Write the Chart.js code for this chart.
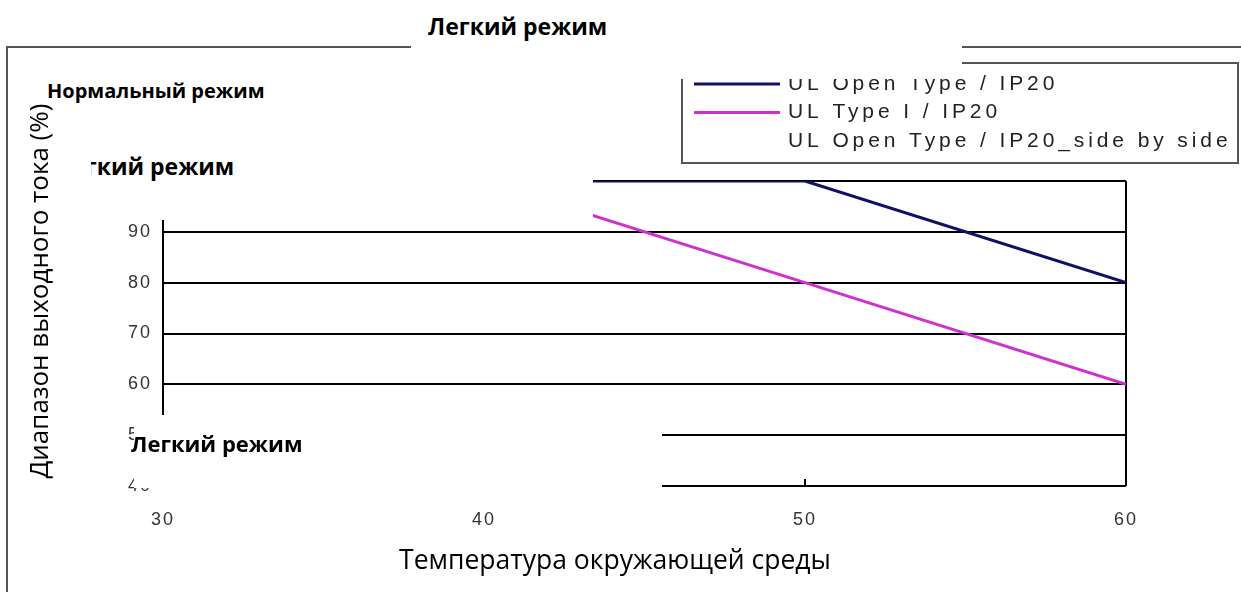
<!DOCTYPE html>
<html>
<head>
<meta charset="utf-8">
<script src="https://cdn.jsdelivr.net/npm/chart.js@4"></script>
<style>
  body { margin: 0; background: #fff; }
  #wrap { position: relative; width: 1241px; height: 592px; overflow: hidden; }
  #frame { position: absolute; left: 6px; top: 46px; width: 1300px; height: 600px;
    border-left: 2px solid #555; border-top: 2px solid #555; }
  canvas { position: absolute; left: 0; top: 0; }
  .cover { position: absolute; background: #fff; }
  .note { position: absolute; font: bold 22px "Open Sans"; line-height: 22px; color: #000; white-space: nowrap; }
  .title { position: absolute; font: 26.5px "Open Sans"; line-height: 28px; color: #000; white-space: nowrap; }
</style>
</head>
<body>
<div id="wrap">
  <div id="frame"></div>
  <canvas id="deratingChart" width="1241" height="592"></canvas>
  <div class="cover" style="left:411px;top:0;width:551px;height:79px"></div>
  <div class="cover" style="left:20px;top:56px;width:573px;height:164px"></div>
  <div class="cover" style="left:134px;top:415px;width:528px;height:73px"></div>
  <div class="note" style="left:428px;top:15px;font-size:23px">Легкий режим</div>
  <div class="note" style="left:47px;top:80px;font-size:20px">Нормальный режим</div>
  <div class="note" style="left:55px;top:155px;font-size:23px">Легкий режим</div>
  <div class="note" style="left:131px;top:432px">Легкий режим</div>
  <div class="cover" style="left:22px;top:104px;width:69px;height:384px"></div>
  <div class="title" style="left:38px;top:291px;font-size:26px;transform:translate(-50%,-50%) rotate(-90deg)">Диапазон выходного тока (%)</div>
  <div class="title" style="left:615px;top:559px;transform:translate(-50%,-50%)">Температура окружающей среды</div>
</div>
<script>
const temps = [30, 40, 50, 60];
const openType = [100, 100, 100, 80];
const typeOne = [100, 100, 80, 60];
const sideBySide = [null, null, null, null];
const seriesNames = ["UL Open Type / IP20", "UL Type I / IP20", "UL Open Type / IP20_side by side"];
const seriesColors = ["#101066", "#d030d0", "rgba(0,0,0,0)"];
const xTicks = [30, 40, 50, 60];
const yTicks = [40, 50, 60, 70, 80, 90, 100];

function toPoints(values) {
  return temps.map((t, i) => ({ x: t, y: values[i] }));
}

const spacingPlugin = {
  id: "spacing",
  beforeDraw(chart) {
    chart.ctx.letterSpacing = "2px";
  },
};

const innerTicks = {
  id: "innerTicks",
  afterDatasetsDraw(chart) {
    const ctx = chart.ctx;
    const x = chart.scales.x;
    const bottom = chart.chartArea.bottom;
    ctx.save();
    ctx.strokeStyle = "#000";
    ctx.lineWidth = 2;
    xTicks.slice(1, -1).forEach((t) => {
      const px = x.getPixelForValue(t);
      ctx.beginPath();
      ctx.moveTo(px, bottom);
      ctx.lineTo(px, bottom - 7);
      ctx.stroke();
    });
    ctx.restore();
  },
};

const boxLegend = {
  id: "boxLegend",
  afterDraw(chart) {
    const ctx = chart.ctx;
    ctx.save();
    ctx.strokeStyle = "#555";
    ctx.lineWidth = 2;
    ctx.strokeRect(682, 63, 556, 100);
    ctx.font = "21px Arial";
    ctx.letterSpacing = "3.9px";
    ctx.fillStyle = "#222";
    ctx.textBaseline = "middle";
    chart.data.datasets.forEach((ds, i) => {
      const y = 84 + i * 28.5;
      ctx.strokeStyle = ds.borderColor;
      ctx.lineWidth = 3;
      ctx.beginPath();
      ctx.moveTo(694, y);
      ctx.lineTo(780, y);
      ctx.stroke();
      ctx.fillText(ds.label, 788, y);
    });
    ctx.restore();
  },
};

function createChart() {
  const ctx = document.getElementById("deratingChart").getContext("2d");

  new Chart(ctx, {
    type: "line",
    data: {
      datasets: [
        { label: seriesNames[0], data: toPoints(openType), borderColor: seriesColors[0], borderWidth: 3, pointRadius: 0, fill: false },
        { label: seriesNames[1], data: toPoints(typeOne), borderColor: seriesColors[1], borderWidth: 3, pointRadius: 0, fill: false },
        { label: seriesNames[2], data: toPoints(sideBySide), borderColor: seriesColors[2], borderWidth: 3, pointRadius: 0, fill: false },
      ],
    },
    options: {
      responsive: false,
      animation: false,
      layout: { padding: { top: 181, right: 115, left: 0, bottom: 0 } },
      plugins: { legend: { display: false }, tooltip: { enabled: false } },
      scales: {
        x: {
          type: "linear",
          min: 30,
          max: 60,
          afterBuildTicks: (s) => { s.ticks = xTicks.map((v) => ({ value: v })); },
          afterFit: (s) => { s.height = 106; },
          ticks: { font: { family: "Arial", size: 18 }, color: "#333", padding: 23 },
          grid: {
            drawTicks: false,
            lineWidth: 2,
            color: (c) => (c.tick && (c.tick.value === 30 || c.tick.value === 60) ? "#000" : "rgba(0,0,0,0)"),
          },
          border: { display: false },
        },
        y: {
          min: 40,
          max: 100,
          afterBuildTicks: (s) => { s.ticks = yTicks.map((v) => ({ value: v })); },
          afterFit: (s) => { s.width = 163; },
          ticks: { font: { family: "Arial", size: 18 }, color: "#333", padding: 11 },
          grid: { drawTicks: false, lineWidth: 2, color: "#000" },
          border: { display: false },
        },
      },
    },
    plugins: [spacingPlugin, innerTicks, boxLegend],
  });
}

createChart();
</script>
</body>
</html>
